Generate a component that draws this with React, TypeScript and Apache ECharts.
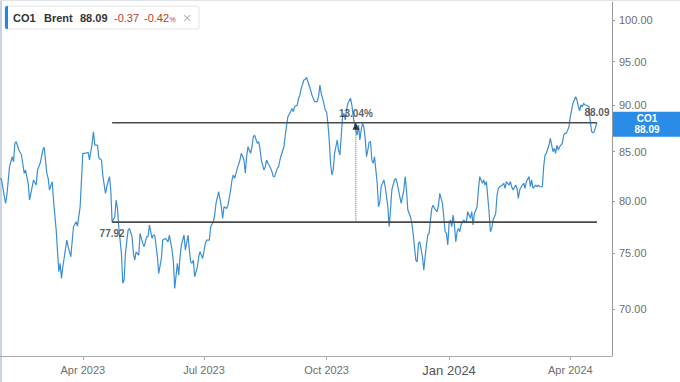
import React, { useEffect, useRef } from "react";
import * as echarts from "echarts";

const dates: string[] = [
  "2023-01-29", "2023-01-30",
  "2023-02-02", "2023-02-03", "2023-02-05", "2023-02-07", "2023-02-08", "2023-02-09", "2023-02-10", "2023-02-12", "2023-02-14", "2023-02-16", "2023-02-17", "2023-02-19", "2023-02-20", "2023-02-22", "2023-02-23", "2023-02-25", "2023-02-26", "2023-02-28",
  "2023-03-02", "2023-03-03", "2023-03-05", "2023-03-06", "2023-03-07", "2023-03-09", "2023-03-10", "2023-03-12", "2023-03-14", "2023-03-15", "2023-03-16", "2023-03-17", "2023-03-20", "2023-03-21", "2023-03-23", "2023-03-25", "2023-03-27", "2023-03-28", "2023-03-30",
  "2023-04-01", "2023-04-03", "2023-04-05", "2023-04-06", "2023-04-08", "2023-04-09", "2023-04-10", "2023-04-12", "2023-04-13", "2023-04-14", "2023-04-15", "2023-04-16", "2023-04-18", "2023-04-19", "2023-04-21", "2023-04-22", "2023-04-23", "2023-04-25", "2023-04-26", "2023-04-27", "2023-04-28", "2023-04-30",
  "2023-05-01", "2023-05-02", "2023-05-03", "2023-05-05", "2023-05-06", "2023-05-08", "2023-05-09", "2023-05-10", "2023-05-11", "2023-05-13", "2023-05-14", "2023-05-16", "2023-05-17", "2023-05-19", "2023-05-20", "2023-05-21", "2023-05-23", "2023-05-24", "2023-05-25", "2023-05-27", "2023-05-28", "2023-05-30", "2023-05-31",
  "2023-06-02", "2023-06-04", "2023-06-05", "2023-06-07", "2023-06-08", "2023-06-09", "2023-06-11", "2023-06-12", "2023-06-13", "2023-06-14", "2023-06-16", "2023-06-17", "2023-06-19", "2023-06-20", "2023-06-21", "2023-06-22", "2023-06-23", "2023-06-24", "2023-06-26", "2023-06-27", "2023-06-28", "2023-06-29", "2023-06-30",
  "2023-07-02", "2023-07-03", "2023-07-05", "2023-07-06", "2023-07-08", "2023-07-09", "2023-07-10", "2023-07-12", "2023-07-14", "2023-07-15", "2023-07-16", "2023-07-18", "2023-07-19", "2023-07-21", "2023-07-22", "2023-07-23", "2023-07-24", "2023-07-26", "2023-07-28", "2023-07-29", "2023-07-31",
  "2023-08-01", "2023-08-02", "2023-08-03", "2023-08-05", "2023-08-06", "2023-08-07", "2023-08-08", "2023-08-10", "2023-08-11", "2023-08-12", "2023-08-13", "2023-08-15", "2023-08-16", "2023-08-17", "2023-08-18", "2023-08-20", "2023-08-21", "2023-08-22", "2023-08-23", "2023-08-25", "2023-08-26", "2023-08-27", "2023-08-28", "2023-08-30", "2023-08-31",
  "2023-09-01", "2023-09-02", "2023-09-04", "2023-09-05", "2023-09-06", "2023-09-07", "2023-09-09", "2023-09-10", "2023-09-11", "2023-09-12", "2023-09-14", "2023-09-15", "2023-09-16", "2023-09-17", "2023-09-19", "2023-09-20", "2023-09-21", "2023-09-22", "2023-09-24", "2023-09-25", "2023-09-26", "2023-09-27", "2023-09-29", "2023-09-30",
  "2023-10-01", "2023-10-02", "2023-10-03", "2023-10-04", "2023-10-05", "2023-10-06", "2023-10-07", "2023-10-09", "2023-10-10", "2023-10-11", "2023-10-12", "2023-10-13", "2023-10-14", "2023-10-15", "2023-10-16", "2023-10-17", "2023-10-19", "2023-10-20", "2023-10-21", "2023-10-22", "2023-10-23", "2023-10-24", "2023-10-25", "2023-10-26", "2023-10-27", "2023-10-28", "2023-10-29", "2023-10-30", "2023-10-31",
  "2023-11-01", "2023-11-02", "2023-11-03", "2023-11-04", "2023-11-05", "2023-11-06", "2023-11-08", "2023-11-09", "2023-11-10", "2023-11-11", "2023-11-13", "2023-11-14", "2023-11-16", "2023-11-17", "2023-11-18", "2023-11-19", "2023-11-21", "2023-11-22", "2023-11-23", "2023-11-25", "2023-11-26", "2023-11-28", "2023-11-29", "2023-11-30",
  "2023-12-01", "2023-12-03", "2023-12-04", "2023-12-05", "2023-12-06", "2023-12-07", "2023-12-08", "2023-12-09", "2023-12-10", "2023-12-12", "2023-12-13", "2023-12-14", "2023-12-15", "2023-12-16", "2023-12-17", "2023-12-18", "2023-12-19", "2023-12-20", "2023-12-21", "2023-12-23", "2023-12-24", "2023-12-25", "2023-12-27", "2023-12-28", "2023-12-29", "2023-12-30", "2023-12-31",
  "2024-01-01", "2024-01-02", "2024-01-03", "2024-01-04", "2024-01-05", "2024-01-06", "2024-01-07", "2024-01-08", "2024-01-09", "2024-01-10", "2024-01-11", "2024-01-12", "2024-01-13", "2024-01-14", "2024-01-15", "2024-01-17", "2024-01-18", "2024-01-19", "2024-01-20", "2024-01-21", "2024-01-22", "2024-01-23", "2024-01-24", "2024-01-26", "2024-01-27", "2024-01-28", "2024-01-29", "2024-01-30", "2024-01-31",
  "2024-02-01", "2024-02-02", "2024-02-03", "2024-02-05", "2024-02-06", "2024-02-07", "2024-02-08", "2024-02-10", "2024-02-11", "2024-02-12", "2024-02-13", "2024-02-15", "2024-02-16", "2024-02-17", "2024-02-18", "2024-02-20", "2024-02-21", "2024-02-22", "2024-02-23", "2024-02-25", "2024-02-26", "2024-02-27", "2024-02-28",
  "2024-03-01", "2024-03-02", "2024-03-03", "2024-03-04", "2024-03-06", "2024-03-07", "2024-03-08", "2024-03-09", "2024-03-11", "2024-03-12", "2024-03-13", "2024-03-14", "2024-03-16", "2024-03-17", "2024-03-18", "2024-03-19", "2024-03-20", "2024-03-21", "2024-03-22", "2024-03-23", "2024-03-24", "2024-03-26", "2024-03-27", "2024-03-28", "2024-03-29", "2024-03-31",
  "2024-04-01", "2024-04-02", "2024-04-03", "2024-04-05", "2024-04-06", "2024-04-07", "2024-04-08", "2024-04-09", "2024-04-10", "2024-04-11", "2024-04-12", "2024-04-13", "2024-04-15", "2024-04-16", "2024-04-17", "2024-04-18", "2024-04-19", "2024-04-20", "2024-04-21",
];

const prices: number[] = [
  82.25, 82.08,
  79.75, 80.57, 83.44, 84.47, 83.95, 85.88, 86.05, 85.17, 84.65, 82.76, 83.09, 81.75, 80.07, 81.40, 82.08, 81.57, 83.09, 83.79,
  85.17, 85.46, 82.76, 82.25, 81.07, 81.91, 80.07, 77.16, 73.29, 74.05, 72.69, 73.74, 76.21, 75.59, 74.66, 77.48, 77.96, 77.54, 79.41,
  84.83, 84.83, 84.93, 84.13, 85.88, 87.12, 85.70, 85.70, 84.41, 84.20, 84.13, 82.59, 80.74, 81.40, 82.42, 81.07, 77.92, 78.44, 80.07, 79.25, 77.48, 74.97,
  72.25, 72.54, 74.97, 77.16, 77.32, 76.53, 74.97, 74.35, 75.12, 74.81, 76.84, 75.90, 75.59, 76.53, 76.53, 77.64, 76.37, 76.69, 76.69, 74.66, 73.14, 74.51, 76.21,
  76.37, 76.05, 76.69, 75.28, 74.19, 71.80, 74.05, 72.99, 74.66, 75.75, 76.69, 75.28, 76.69, 75.28, 74.19, 74.05, 74.35, 72.84, 73.74, 74.66, 75.12, 74.81, 74.50,
  75.90, 76.21, 76.21, 77.48, 77.96, 78.60, 79.75, 80.90, 79.41, 78.28, 79.41, 79.25, 79.57, 81.07, 82.08, 82.59, 82.25, 83.27, 84.13, 84.83, 84.13,
  82.76, 84.47, 85.52, 84.83, 85.52, 86.58, 86.76, 85.88, 86.05, 85.35, 84.13, 83.09, 83.44, 84.13, 83.79, 83.27, 82.92, 82.42, 82.42, 83.27, 83.44, 84.13, 84.65, 85.52, 86.76,
  87.84, 88.75, 89.30, 89.67, 89.30, 89.85, 90.04, 90.79, 91.16, 91.91, 92.86, 92.94, 93.17, 92.66, 91.72, 91.16, 90.79, 90.41, 90.41, 90.97, 92.29, 91.35, 90.23, 89.48,
  89.30, 88.02, 86.23, 83.79, 82.59, 83.09, 84.83, 86.23, 85.17, 84.65, 86.58, 88.75, 89.11, 88.39, 89.48, 90.23, 90.79, 90.04, 88.75, 88.02, 87.30, 86.76, 87.84, 86.23, 87.30, 88.02, 87.66, 86.41, 84.47,
  85.17, 86.05, 86.05, 84.13, 83.79, 84.47, 81.75, 79.41, 79.90, 81.40, 82.08, 81.40, 79.41, 77.48, 79.09, 81.07, 82.08, 82.25, 81.75, 80.40, 79.75, 81.07, 82.42, 81.07,
  79.09, 78.44, 77.80, 76.84, 75.59, 74.35, 74.19, 75.90, 76.05, 74.66, 73.44, 74.66, 75.75, 76.69, 76.84, 78.12, 79.25, 79.57, 79.25, 78.93, 79.57, 80.74, 79.75, 78.44, 77.00, 76.84, 75.75,
  77.80, 78.12, 77.48, 78.60, 77.64, 76.05, 77.00, 77.32, 77.00, 77.64, 77.96, 78.12, 77.96, 77.96, 78.93, 78.28, 78.93, 77.64, 78.76, 79.09, 79.41, 81.07, 82.42, 81.75, 82.08, 81.57, 81.91, 80.40, 78.93,
  77.00, 77.32, 78.12, 78.76, 80.57, 81.24, 81.40, 81.57, 81.75, 81.24, 81.91, 81.57, 81.91, 81.40, 81.07, 81.57, 81.24, 80.24, 81.07, 81.57, 81.75, 81.24, 81.91,
  82.42, 81.40, 82.08, 81.24, 81.57, 81.40, 81.57, 81.40, 81.40, 83.44, 84.65, 84.83, 85.70, 86.41, 85.70, 85.00, 85.35, 84.83, 85.70, 85.17, 85.52, 85.88, 86.76, 86.94, 86.94, 87.66,
  88.75, 89.48, 90.23, 90.97, 90.60, 89.85, 89.41, 90.04, 89.85, 90.23, 90.04, 90.04, 89.85, 88.21, 87.12, 87.01, 87.12, 87.66, 88.09,
];

const yTickValues = [70, 75, 80, 85, 90, 95, 100];
const xTickDates = ["2023-04-01", "2023-07-01", "2023-10-01", "2024-01-01", "2024-04-01"];
const monthNames = ["Jan", "Feb", "Mar", "Apr", "May", "Jun", "Jul", "Aug", "Sep", "Oct", "Nov", "Dec"];

const levelHigh = 88.09;
const levelLow = 77.92;
const levelStartDate = "2023-04-23";
const levelEndDate = "2024-04-21";
const measureDate = "2023-10-23";
const measureText = "13.04%";

const yAxisMin = 66.05;
const yAxisMax = 102.25;
const xAxisMin = "2023-01-28 20:00";
const xAxisMax = "2024-05-02 07:00";

const headerSymbol = "CO1";
const headerName = "Brent";
const headerLast = "88.09";
const headerChange = "-0.37";
const headerChangePct = "-0.42";

export default function App() {
  const ref = useRef<HTMLDivElement>(null);

  useEffect(() => {
    if (!ref.current) return;
    const chart = echarts.init(ref.current, null, { renderer: "svg" });
    const ts = (s: string) => +echarts.time.parse(s);
    const lg = Math.log;
    const font = "Liberation Sans, Arial, sans-serif";
    const lineBlue = "#3b8ed6";
    const levelColor = "#4a4a4a";
    const labelStyle = { color: "#333", fontSize: 10, fontWeight: "bold" as const, fontFamily: font };

    const option: any = {
      animation: false,
      textStyle: { fontFamily: font },
      grid: { left: 0, right: 68, top: 2, bottom: 26, containLabel: false },
      xAxis: {
        type: "value",
        min: ts(xAxisMin),
        max: ts(xAxisMax),
        axisLine: { show: true, onZero: false, lineStyle: { color: "#aaaaaa", width: 1 } },
        axisTick: { show: true, length: 4, lineStyle: { color: "#aaaaaa" }, customValues: xTickDates.map(ts) },
        axisLabel: {
          customValues: xTickDates.map(ts),
          margin: 8,
          fontSize: 11,
          color: "#6e6e6e",
          fontFamily: font,
          formatter: (v: number) => {
            const d = new Date(v);
            const txt = monthNames[d.getMonth()] + " " + d.getFullYear();
            return d.getMonth() === 0 ? "{big|" + txt + "}" : txt;
          },
          rich: { big: { fontSize: 13, color: "#555", fontFamily: font } },
        },
        splitLine: { show: false },
      },
      yAxis: {
        type: "value",
        position: "right",
        min: lg(yAxisMin),
        max: lg(yAxisMax),
        axisLine: { show: true, lineStyle: { color: "#9a9a9a", width: 1 } },
        axisTick: { show: true, length: 3, lineStyle: { color: "#9a9a9a" }, customValues: yTickValues.map(lg) },
        axisLabel: {
          customValues: yTickValues.map(lg),
          margin: 7,
          fontSize: 11,
          color: "#6e6e6e",
          fontFamily: font,
          formatter: (v: number) => Math.exp(v).toFixed(2),
        },
        splitLine: { show: false },
      },
      series: [
        {
          name: "CO1",
          type: "line",
          data: dates.map((d, i) => [ts(d), lg(prices[i])]),
          showSymbol: false,
          symbol: "none",
          lineStyle: { color: lineBlue, width: 1.2 },
          itemStyle: { color: lineBlue },
          z: 2,
          silent: true,
        },
        {
          name: "high",
          type: "line",
          data: [[ts(levelStartDate), lg(levelHigh)], [ts(levelEndDate), lg(levelHigh)]],
          symbol: "none",
          lineStyle: { color: levelColor, width: 1.6 },
          z: 3,
          silent: true,
        },
        {
          name: "low",
          type: "line",
          data: [[ts(levelStartDate), lg(levelLow)], [ts(levelEndDate), lg(levelLow)]],
          symbol: "none",
          lineStyle: { color: levelColor, width: 1.6 },
          z: 3,
          silent: true,
        },
        {
          name: "measure",
          type: "line",
          data: [[ts(measureDate), lg(levelHigh)], [ts(measureDate), lg(levelLow)]],
          symbol: "none",
          lineStyle: { color: "#666", width: 1, type: "dotted" },
          z: 3,
          silent: true,
        },
        {
          name: "annotations",
          type: "scatter",
          z: 4,
          silent: true,
          data: [
            {
              value: [ts(levelStartDate), lg(levelLow)],
              symbolSize: 1,
              itemStyle: { color: "rgba(0,0,0,0)" },
              label: { show: true, position: "bottom", distance: 6, formatter: levelLow.toFixed(2), ...labelStyle },
            },
            {
              value: [ts(levelEndDate), lg(levelHigh)],
              symbolSize: 1,
              itemStyle: { color: "rgba(0,0,0,0)" },
              label: { show: true, position: "top", distance: 5, formatter: levelHigh.toFixed(2), ...labelStyle },
            },
            {
              value: [ts(measureDate), lg(levelHigh)],
              symbol: "triangle",
              symbolSize: 7,
              symbolOffset: [0, 3.5],
              itemStyle: { color: "#111" },
              label: { show: true, position: "top", distance: 4, formatter: measureText, ...labelStyle },
            },
          ],
        },
      ],
    };
    chart.setOption(option);

    const py = chart.convertToPixel({ yAxisIndex: 0 }, lg(levelHigh)) as number;
    const hy = 17.5;
    chart.setOption({
      graphic: [
        { type: "line", shape: { x1: 1, y1: 0, x2: 1, y2: 382 }, style: { stroke: "#cbd4de", lineWidth: 2 }, silent: true },
        { type: "line", shape: { x1: 0, y1: 0.5, x2: 680, y2: 0.5 }, style: { stroke: "#dfe4ea", lineWidth: 1 }, silent: true },
        { type: "rect", shape: { x: 5, y: 6, width: 194, height: 23, r: 2 }, style: { fill: "#ffffff", stroke: "#e4e4e4", lineWidth: 1 }, z: 10 },
        { type: "rect", shape: { x: 5, y: 6, width: 3, height: 23, r: [2, 0, 0, 2] }, style: { fill: "#1e88e5" }, z: 11 },
        { type: "text", x: 13, y: hy, z: 11, style: { text: headerSymbol, fill: "#333", fontSize: 11, fontWeight: "bold", fontFamily: font, align: "left", verticalAlign: "middle" } },
        { type: "text", x: 44, y: hy, z: 11, style: { text: headerName, fill: "#333", fontSize: 11, fontWeight: "bold", fontFamily: font, align: "left", verticalAlign: "middle" } },
        { type: "text", x: 80, y: hy, z: 11, style: { text: headerLast, fill: "#333", fontSize: 11, fontWeight: "bold", fontFamily: font, align: "left", verticalAlign: "middle" } },
        { type: "text", x: 114, y: hy, z: 11, style: { text: headerChange, fill: "#c0392b", fontSize: 11, fontFamily: font, align: "left", verticalAlign: "middle" } },
        { type: "text", x: 144, y: hy, z: 11, style: { text: headerChangePct, fill: "#c0392b", fontSize: 11, fontFamily: font, align: "left", verticalAlign: "middle" } },
        { type: "text", x: 169.5, y: hy + 1.5, z: 11, style: { text: "%", fill: "#c0392b", fontSize: 7, fontFamily: font, align: "left", verticalAlign: "middle" } },
        { type: "text", x: 187, y: hy, z: 11, style: { text: "×", fill: "#b8b8b8", fontSize: 15, fontFamily: font, align: "center", verticalAlign: "middle" } },
        { type: "rect", shape: { x: 613, y: py - 11, width: 67, height: 25 }, style: { fill: "#2b8ce8" }, z: 10 },
        { type: "text", x: 647, y: py - 4.5, z: 11, style: { text: headerSymbol, fill: "#ffffff", fontSize: 10, fontWeight: "bold", fontFamily: font, align: "center", verticalAlign: "middle" } },
        { type: "text", x: 647, y: py + 6.5, z: 11, style: { text: headerLast, fill: "#ffffff", fontSize: 10, fontWeight: "bold", fontFamily: font, align: "center", verticalAlign: "middle" } },
      ],
    });

    return () => chart.dispose();
  }, []);

  return <div ref={ref} style={{ position: "absolute", left: 0, top: 0, width: 680, height: 382 }} />;
}
